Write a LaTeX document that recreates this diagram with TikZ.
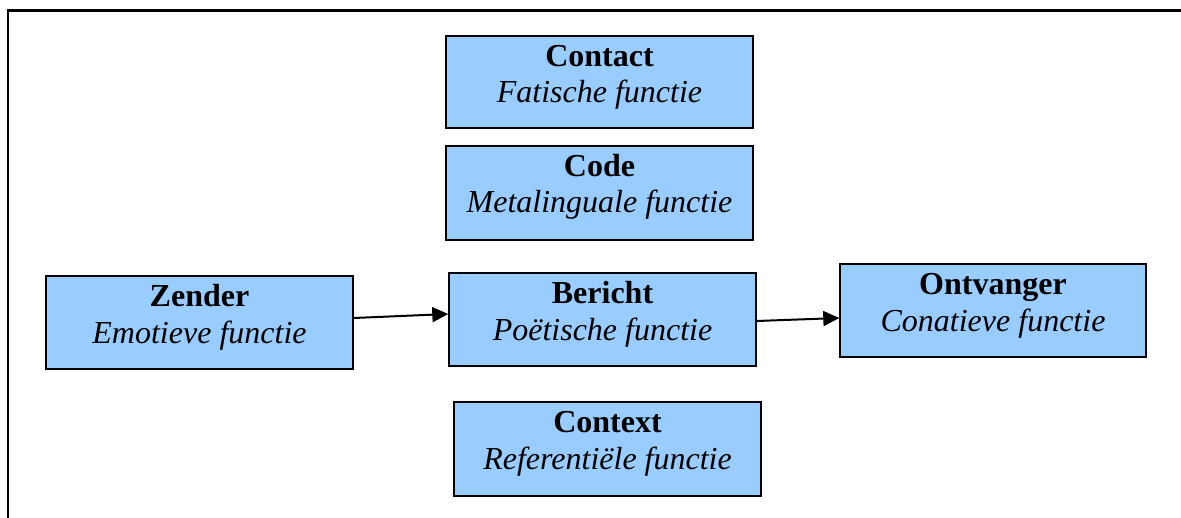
\documentclass[tikz,border=0pt]{standalone}
\usepackage{fontspec}
\setmainfont{Liberation Serif}
\usetikzlibrary{arrows.meta}
\definecolor{boxblue}{HTML}{99CCFF}
\begin{document}
\begin{tikzpicture}[x=1pt,y=-1pt,
  fbox/.style={draw=black, line width=1.4pt, fill=boxblue, rectangle, inner sep=0pt},
  ttl/.style={anchor=base, font=\fontsize{32}{37}\selectfont\bfseries, inner sep=0pt},
  sub/.style={anchor=base, font=\fontsize{32}{37}\selectfont\itshape, inner sep=0pt},
  arr/.style={line width=2pt, -{Triangle[length=16pt,width=15pt]}}]
\useasboundingbox (0,0) rectangle (1181,518);
\fill[white] (0,0) rectangle (1181,518);
% frame
\coordinate (fa) at (8,518);
\coordinate (fb) at (8,10.5);
\coordinate (fc) at (1181,10.5);
\draw[line width=2.2pt] (fa) -- (fb) -- (fc);
% boxes
\node[fbox, minimum width=307pt, minimum height=92pt] (contact) at (599.5,82) {};
\node[fbox, minimum width=307pt, minimum height=94pt] (code) at (599.5,193) {};
\node[fbox, minimum width=307pt, minimum height=93pt] (zender) at (199.5,322.5) {};
\node[fbox, minimum width=307pt, minimum height=93pt] (bericht) at (602.5,319.5) {};
\node[fbox, minimum width=306pt, minimum height=93pt] (ontvanger) at (993,310.5) {};
\node[fbox, minimum width=307pt, minimum height=94pt] (context) at (607.5,449) {};
% texts
\node[ttl] (contactT) at ([yshift=-31pt]contact.north) {Contact};
\node[sub] (contactS) at ([yshift=-67pt]contact.north) {Fatische functie};
\node[ttl] (codeT) at ([yshift=-31pt]code.north) {Code};
\node[sub] (codeS) at ([yshift=-67.5pt]code.north) {Metalinguale functie};
\node[ttl] (zenderT) at ([yshift=-31.5pt]zender.north) {Zender};
\node[sub] (zenderS) at ([yshift=-68.5pt]zender.north) {Emotieve functie};
\node[ttl] (berichtT) at ([yshift=-31pt]bericht.north) {Bericht};
\node[sub] (berichtS) at ([yshift=-68pt]bericht.north) {Poëtische functie};
\node[ttl] (ontvangerT) at ([yshift=-31pt]ontvanger.north) {Ontvanger};
\node[sub] (ontvangerS) at ([yshift=-68pt]ontvanger.north) {Conatieve functie};
\node[ttl] (contextT) at ([yshift=-31pt]context.north) {Context};
\node[sub] (contextS) at ([yshift=-68pt]context.north) {Referentiële functie};
% arrows
\draw[arr] ([yshift=4.5pt]zender.east) -- ([yshift=5.5pt]bericht.west);
\draw[arr] ([yshift=-1.5pt]bericht.east) -- ([yshift=-7.5pt]ontvanger.west);
\end{tikzpicture}
\end{document}
